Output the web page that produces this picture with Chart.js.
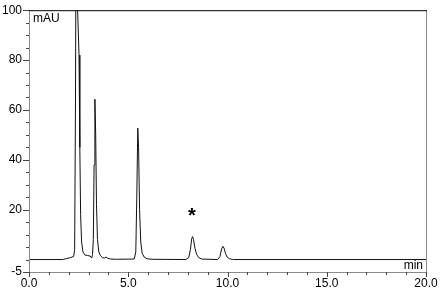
<!DOCTYPE html>
<html lang="en">
<head>
    <meta charset="UTF-8">
    <title>Chromatogram</title>
    <script src="https://cdn.jsdelivr.net/npm/chart.js"></script>
    <style>
        html, body {
            margin: 0;
            padding: 0;
            background: #fff;
        }
        #wrap {
            width: 441px;
            height: 293px;
        }
    </style>
</head>
<body>
    <div id="wrap"><canvas id="chrom"></canvas></div>

    <script>
        // retention time (min) and absorbance (mAU)
        const times = [
            0, 1.7, 1.9, 2.1, 2.25, 2.30, 2.34, 2.37, 2.45, 2.52, 2.56, 2.60, 2.65, 2.72, 2.82, 2.95, 3.08, 3.16,
            3.20, 3.24, 3.28, 3.32, 3.36, 3.40, 3.45, 3.52, 3.60, 3.70, 3.80, 3.88, 3.95, 4.10, 4.40,
            5.30, 5.38, 5.43, 5.48, 5.52, 5.57, 5.63, 5.70, 5.80, 5.95, 6.20,
            7.90, 8.05, 8.13, 8.20, 8.24, 8.29, 8.36, 8.45, 8.55, 8.70,
            9.50, 9.62, 9.70, 9.77, 9.83, 9.90, 9.98, 10.10, 10.30, 20
        ];
        const mAU = [
            0, 0, 0.4, 0.8, 1.2, 4, 60, 130, 100, 82, 45, 18, 7, 3, 1.8, 1.6, 1.4, 0.6,
            2, 8, 38, 64.3, 50, 22, 8, 3, 1.5, 0.8, 0.6, 1.0, 0.6, 0.2, 0.1,
            0.2, 3, 25, 52.7, 45, 20, 7, 2.5, 1, 0.3, 0.1,
            0, 0.8, 4, 8.5, 9.2, 8, 4.5, 2, 0.8, 0.2,
            0, 1.2, 4.2, 5.3, 4.5, 2.4, 1, 0.3, 0, 0
        ];

        // labelled ticks and minor tick steps
        const xTicks = [0, 5, 10, 15, 20];
        const yTicks = [-5, 20, 40, 60, 80, 100];
        const xMinorStep = 1;
        const yMinorStep = 5;

        // text marks on the trace
        const marks = [
            { text: '*', x: 8.2, y: 18.5 }
        ];

        const points = times.map((t, i) => ({ x: t, y: mAU[i] }));

        // frame, tick marks (major longer than minor) and in-plot labels
        const frame = {
            id: 'frame',
            afterDraw(chart) {
                const { ctx, chartArea: a, scales } = chart;
                const sx = scales.x, sy = scales.y;
                ctx.save();
                ctx.lineWidth = 1;

                ctx.strokeStyle = '#8a8a8a';
                ctx.beginPath();
                ctx.moveTo(a.right + 0.5, a.top);
                ctx.lineTo(a.right + 0.5, a.bottom);
                ctx.moveTo(a.left + 0.5, a.top);
                ctx.lineTo(a.left + 0.5, a.bottom);
                ctx.moveTo(a.left, a.bottom + 0.5);
                ctx.lineTo(a.right, a.bottom + 0.5);
                ctx.stroke();

                ctx.strokeStyle = '#000';
                ctx.beginPath();
                ctx.moveTo(a.left, a.top + 0.5);
                ctx.lineTo(a.right + 1, a.top + 0.5);
                ctx.stroke();

                ctx.strokeStyle = '#444';
                ctx.beginPath();
                for (let v = sx.min; v <= sx.max + 1e-9; v += xMinorStep) {
                    const px = Math.round(sx.getPixelForValue(v)) + 0.5;
                    const len = xTicks.includes(v) ? 5 : 3;
                    ctx.moveTo(px, a.bottom);
                    ctx.lineTo(px, a.bottom + len);
                }
                const yVals = [sy.min];
                for (let v = 0; v <= sy.max; v += yMinorStep) yVals.push(v);
                yVals.forEach(v => {
                    const py = Math.round(sy.getPixelForValue(v)) + 0.5;
                    const len = yTicks.includes(v) ? 6 : 3;
                    ctx.moveTo(a.left, py);
                    ctx.lineTo(a.left - len, py);
                });
                ctx.stroke();

                ctx.fillStyle = '#000';
                ctx.font = '12px "Liberation Sans", Arial, sans-serif';
                ctx.textBaseline = 'alphabetic';
                ctx.textAlign = 'left';
                ctx.fillText('mAU', a.left + 4, a.top + 12);
                ctx.textAlign = 'right';
                ctx.fillText('min', a.right - 3, a.bottom - 3);

                ctx.font = 'bold 20px "Liberation Sans", Arial, sans-serif';
                ctx.textAlign = 'center';
                ctx.textBaseline = 'middle';
                marks.forEach(m => {
                    ctx.fillText(m.text, sx.getPixelForValue(m.x), sy.getPixelForValue(m.y) + 3);
                });
                ctx.restore();
            }
        };

        new Chart(document.getElementById('chrom'), {
            type: 'scatter',
            data: {
                datasets: [{
                    data: points,
                    showLine: true,
                    borderColor: '#111',
                    borderWidth: 1,
                    pointRadius: 0,
                    tension: 0
                }]
            },
            options: {
                responsive: true,
                maintainAspectRatio: false,
                animation: false,
                layout: { padding: { top: 8, right: 15, left: 0, bottom: 0 } },
                plugins: {
                    legend: { display: false },
                    tooltip: { enabled: false }
                },
                scales: {
                    x: {
                        type: 'linear',
                        min: 0,
                        max: 20,
                        afterFit(scale) { scale.height = 21; },
                        afterBuildTicks(scale) {
                            const list = [];
                            for (let v = 0; v <= 20; v += xMinorStep) list.push({ value: v });
                            scale.ticks = list;
                        },
                        border: { display: false },
                        grid: {
                            drawOnChartArea: false,
                            tickLength: 4,
                            color: 'rgba(0,0,0,0)'
                        },
                        ticks: {
                            autoSkip: false,
                            maxRotation: 0,
                            padding: 0,
                            color: '#000',
                            font: { family: '"Liberation Sans", Arial, sans-serif', size: 12 },
                            callback: v => xTicks.includes(v) ? v.toFixed(1) : ''
                        }
                    },
                    y: {
                        min: -5,
                        max: 100,
                        afterFit(scale) { scale.width = 29; },
                        afterBuildTicks(scale) {
                            const list = [{ value: -5 }];
                            for (let v = 0; v <= 100; v += yMinorStep) list.push({ value: v });
                            scale.ticks = list;
                        },
                        border: { display: false },
                        grid: {
                            drawOnChartArea: false,
                            tickLength: 4,
                            color: 'rgba(0,0,0,0)'
                        },
                        ticks: {
                            autoSkip: false,
                            padding: 3,
                            color: '#000',
                            font: { family: '"Liberation Sans", Arial, sans-serif', size: 12 },
                            callback: v => yTicks.includes(v) ? String(v) : ''
                        }
                    }
                }
            },
            plugins: [frame]
        });
    </script>
</body>
</html>
